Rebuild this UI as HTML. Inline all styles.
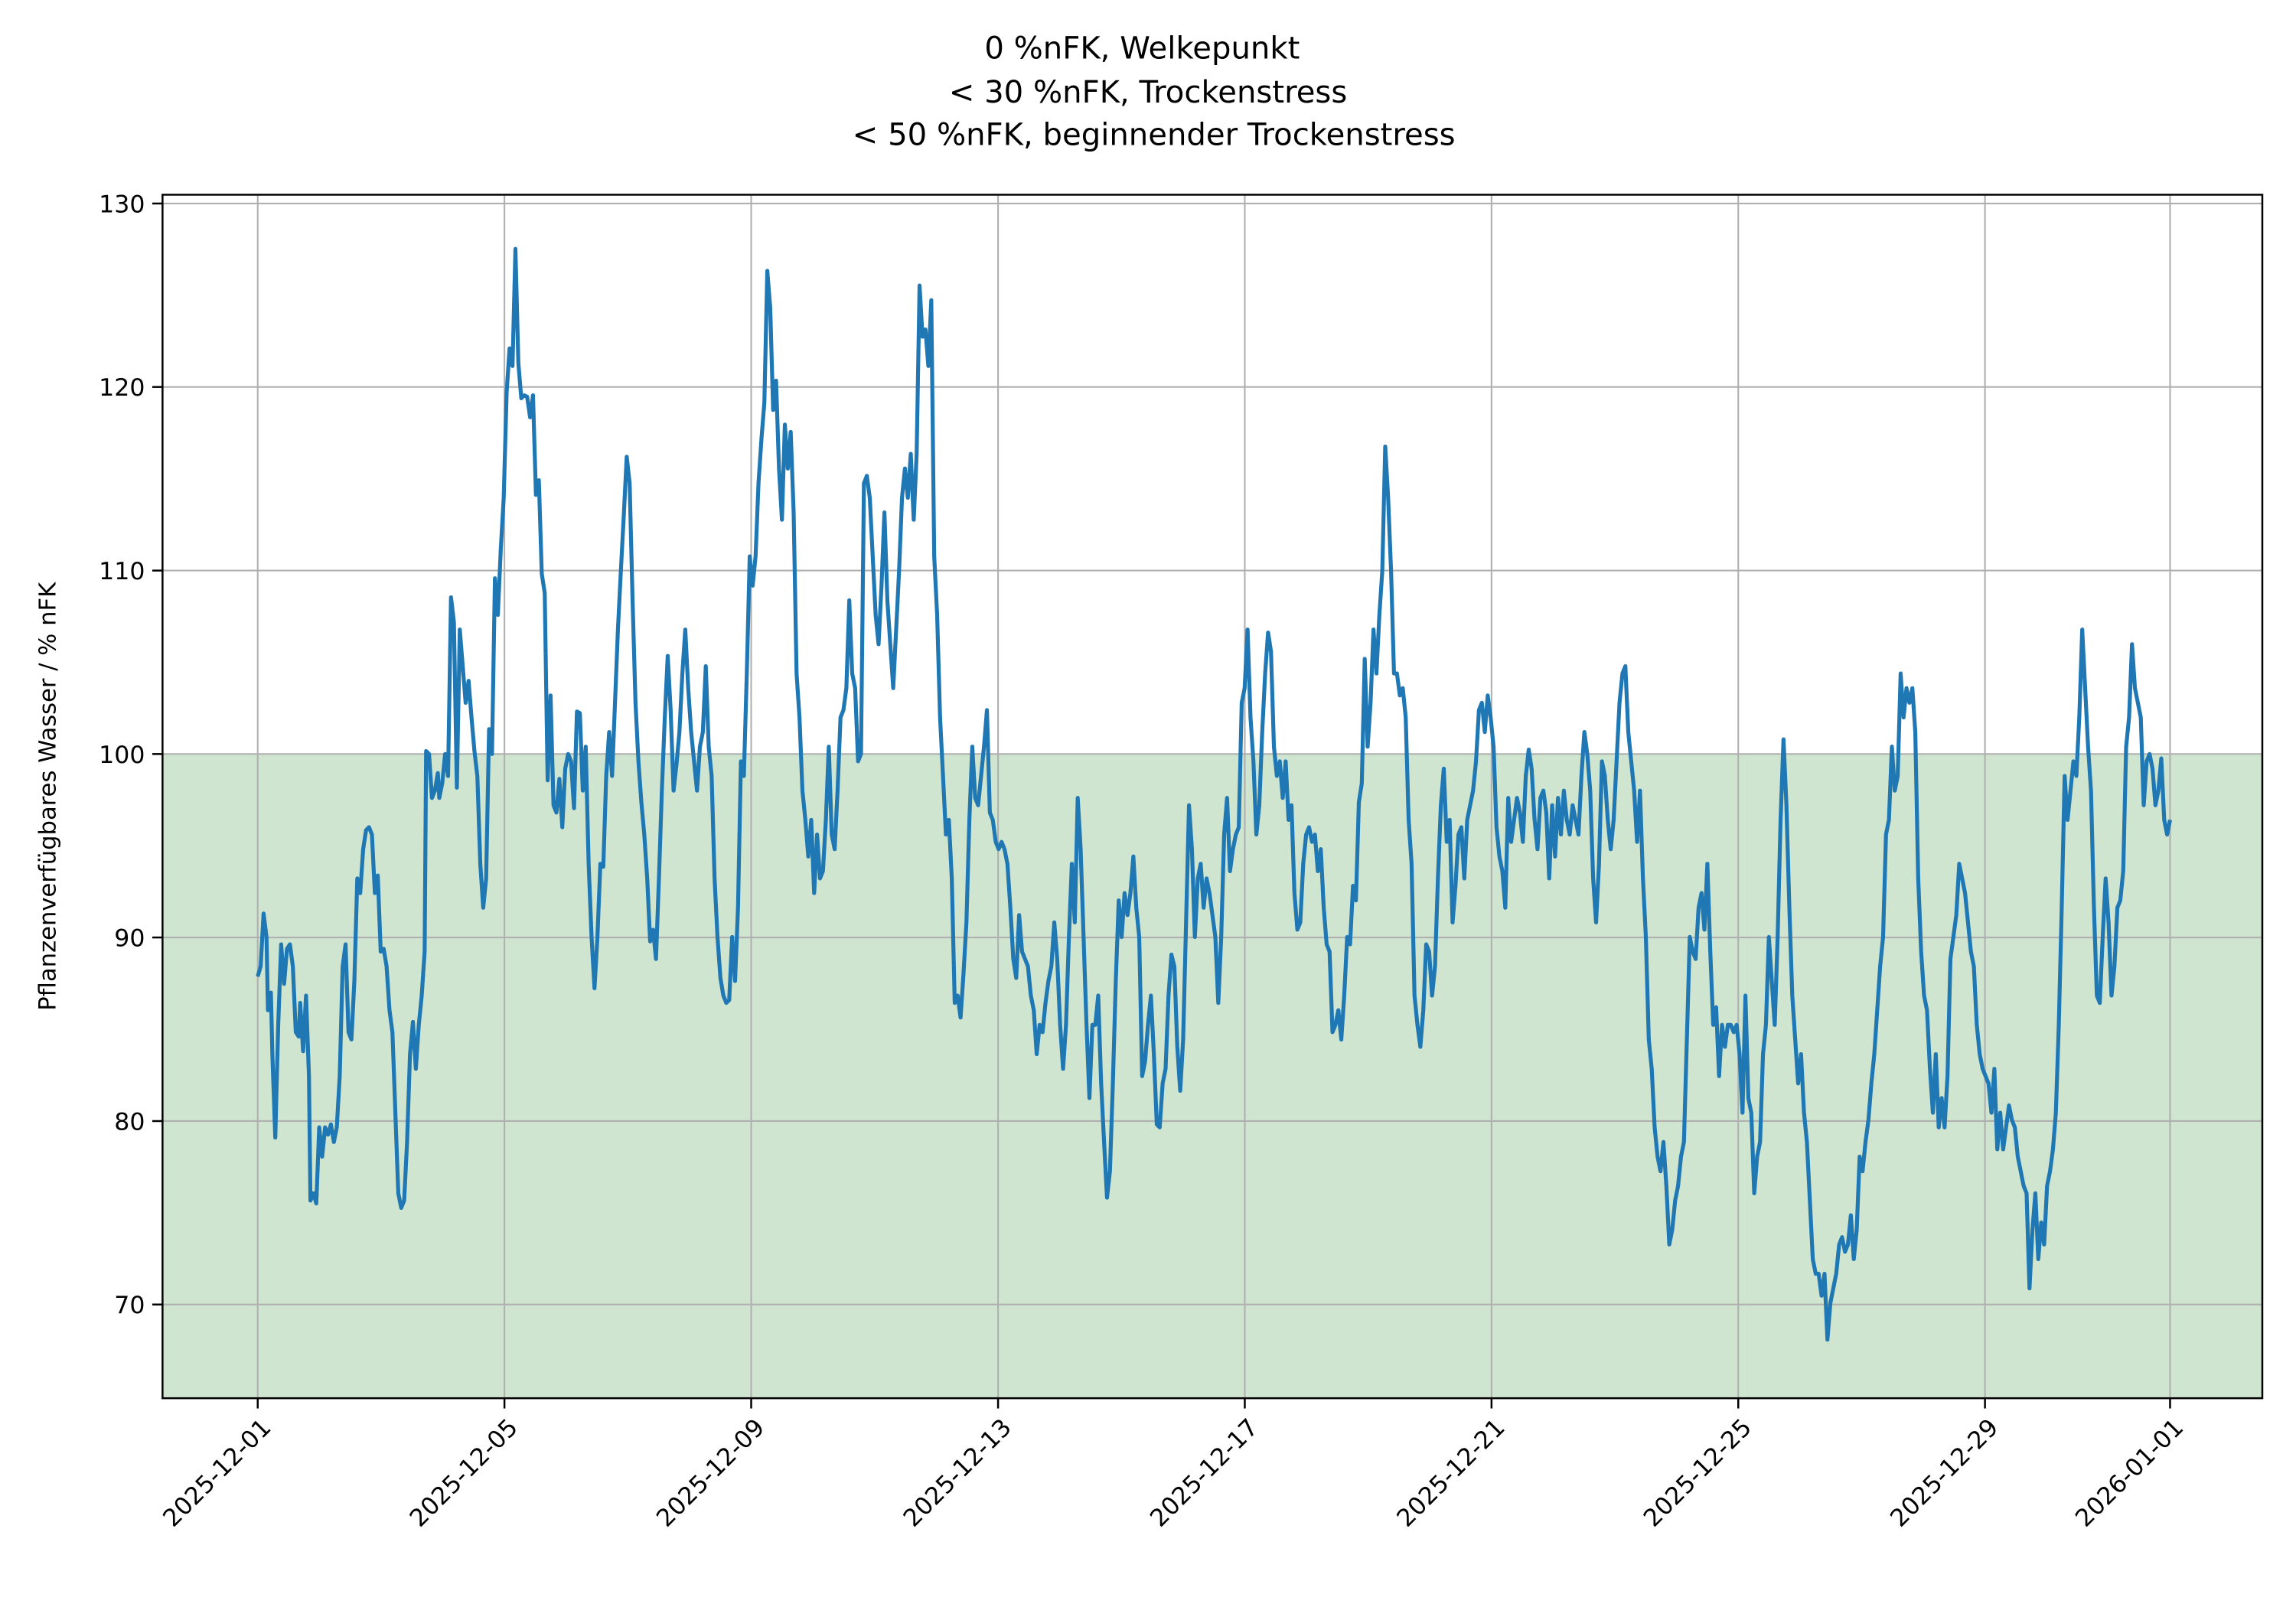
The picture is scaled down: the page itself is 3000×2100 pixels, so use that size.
<!DOCTYPE html>
<html><head><meta charset="utf-8"><style>html,body{margin:0;padding:0;background:#fff}svg{display:block}</style></head>
<body>
<svg width="3000" height="2100" viewBox="0 0 1568 1097.6" preserveAspectRatio="none" xmlns="http://www.w3.org/2000/svg" font-family="DejaVu Sans, Liberation Sans, sans-serif">
<rect width="1568" height="1097.6" fill="#fff"/>
<rect x="111" y="515" width="1434" height="440" fill="#cfe5cf"/>
<g stroke="#b0b0b0" stroke-width="1.1">
<line x1="111" x2="1545" y1="139" y2="139"/><line x1="111" x2="1545" y1="264.3" y2="264.3"/><line x1="111" x2="1545" y1="389.7" y2="389.7"/><line x1="111" x2="1545" y1="515" y2="515"/><line x1="111" x2="1545" y1="640.3" y2="640.3"/><line x1="111" x2="1545" y1="765.7" y2="765.7"/><line x1="111" x2="1545" y1="891" y2="891"/>
<line y1="133" y2="955" x1="176" x2="176"/><line y1="133" y2="955" x1="344.5" x2="344.5"/><line y1="133" y2="955" x1="513" x2="513"/><line y1="133" y2="955" x1="681.6" x2="681.6"/><line y1="133" y2="955" x1="850.1" x2="850.1"/><line y1="133" y2="955" x1="1018.6" x2="1018.6"/><line y1="133" y2="955" x1="1187.1" x2="1187.1"/><line y1="133" y2="955" x1="1355.6" x2="1355.6"/><line y1="133" y2="955" x1="1482" x2="1482"/>
</g>
<polyline fill="none" stroke="#1f77b4" stroke-width="2.7" stroke-linejoin="round" points="176,667 178,660 180,624 182,640 183,690 185,678 186,720 188,777 190,700 192,645 194,672 196,648 198,645 200,660 202,705 204,708 205,685 207,718 209,680 211,735 212,820 214,815 216,822 218,770 220,790 222,770 224,775 226,768 228,780 230,770 232,735 234,660 236,645 238,705 240,710 242,670 244,600 246,610 248,580 250,567 252,565 254,570 256,610 258,598 260,650 262,648 264,660 266,690 268,705 270,760 272,815 274,825 276,820 278,780 280,720 282,698 284,730 286,700 288,680 290,650 291,513 293,515 295,545 297,540 299,528 300,545 302,535 304,515 306,530 308,408 310,425 312,538 314,430 316,455 318,480 320,465 322,490 324,513 326,530 328,590 330,620 332,600 334,498 336,515 338,395 340,420 342,375 344,340 346,268 348,238 350,250 352,170 354,248 356,272 358,270 360,271 362,285 364,270 366,338 368,328 370,392 372,405 374,533 376,475 378,550 380,555 382,532 384,565 386,525 388,515 390,520 392,552 394,486 396,487 398,540 400,510 402,590 404,640 406,675 408,640 410,590 412,592 414,530 416,500 418,530 420,480 422,430 424,390 426,352 428,312 430,330 432,410 434,480 436,520 438,548 440,570 442,600 444,643 446,635 448,655 450,600 452,540 454,490 456,448 458,485 460,540 462,522 464,500 466,460 468,430 470,470 472,500 474,520 476,540 478,510 480,500 482,455 484,510 486,530 488,600 490,640 492,668 494,680 496,685 498,683 500,640 502,670 504,620 506,520 508,530 510,460 512,380 514,400 516,380 518,330 520,300 522,275 524,185 526,210 528,280 530,260 532,320 534,355 536,290 538,320 540,295 542,350 544,460 546,490 548,540 550,560 552,585 554,560 556,610 558,570 560,600 562,595 564,560 566,510 568,570 570,580 572,540 574,490 576,485 578,470 580,410 582,460 584,470 586,520 588,515 590,330 592,325 594,340 596,380 598,420 600,440 602,400 604,350 606,410 608,440 610,470 612,430 614,390 616,340 618,320 620,340 622,310 624,355 626,310 628,195 630,230 632,225 634,250 636,205 638,380 640,420 642,490 644,530 646,570 648,560 650,600 652,685 654,680 656,695 658,665 660,630 662,560 664,510 666,545 668,550 670,530 672,510 674,485 676,555 678,560 680,575 682,580 684,575 686,580 688,590 690,620 692,655 694,668 696,625 698,650 700,655 702,660 704,680 706,690 708,720 710,700 712,705 714,685 716,670 718,660 720,630 722,655 724,700 726,730 728,700 730,640 732,590 734,630 736,545 738,580 740,640 742,700 744,750 746,700 748,700 750,680 752,740 754,780 756,818 758,800 760,740 762,670 764,615 766,640 768,610 770,625 772,610 774,585 776,620 778,640 780,735 782,725 784,700 786,680 788,720 790,768 792,770 794,740 796,730 798,680 800,652 802,660 804,715 806,745 808,710 810,630 812,550 814,580 816,640 818,600 820,590 822,620 824,600 826,610 828,625 830,640 832,685 834,640 836,570 838,545 840,595 842,580 844,570 846,565 848,480 850,470 852,430 854,490 856,520 858,570 860,550 862,500 864,460 866,432 868,445 870,510 872,530 874,520 876,545 878,520 880,560 882,550 884,610 886,635 888,630 890,590 892,570 894,565 896,575 898,570 900,595 902,580 904,620 906,645 908,650 910,705 912,700 914,690 916,710 918,680 920,640 922,645 924,605 926,615 928,548 930,535 932,450 934,510 936,480 938,430 940,460 942,420 944,390 946,305 948,340 950,390 952,460 954,460 956,475 958,470 960,490 962,560 964,590 966,680 968,700 970,715 972,690 974,645 976,650 978,680 980,660 982,600 984,550 986,525 988,575 990,560 992,630 994,605 996,570 998,565 1000,600 1002,560 1004,550 1006,540 1008,520 1010,485 1012,480 1014,500 1016,475 1018,490 1020,510 1022,565 1024,585 1026,595 1028,620 1030,545 1032,575 1034,560 1036,545 1038,555 1040,575 1042,530 1044,512 1046,525 1048,560 1050,580 1052,545 1054,540 1056,555 1058,600 1060,550 1062,585 1064,545 1066,570 1068,540 1070,560 1072,570 1074,550 1076,560 1078,570 1080,530 1082,500 1084,515 1086,540 1088,600 1090,630 1092,590 1094,520 1096,530 1098,560 1100,580 1102,560 1104,520 1106,480 1108,460 1110,455 1112,500 1114,520 1116,540 1118,575 1120,540 1122,600 1124,640 1126,710 1128,730 1130,770 1132,790 1134,800 1136,780 1138,810 1140,850 1142,840 1144,820 1146,810 1148,790 1150,780 1152,710 1154,640 1156,650 1158,655 1160,620 1162,610 1164,635 1166,590 1168,650 1170,700 1172,688 1174,735 1176,700 1178,715 1180,700 1182,700 1184,705 1186,700 1188,720 1190,760 1192,680 1194,750 1196,760 1198,815 1200,790 1202,780 1204,720 1206,700 1208,640 1210,670 1212,700 1214,640 1216,560 1218,505 1220,550 1222,620 1224,680 1226,710 1228,740 1230,720 1232,760 1234,780 1236,820 1238,860 1240,870 1242,870 1244,885 1246,870 1248,915 1250,890 1252,880 1254,870 1256,850 1258,845 1260,855 1262,850 1264,830 1266,860 1268,840 1270,790 1272,800 1274,780 1276,765 1278,740 1280,720 1282,690 1284,660 1286,640 1288,570 1290,560 1292,510 1294,540 1296,530 1298,460 1300,490 1302,470 1304,480 1306,470 1308,500 1310,600 1312,650 1314,680 1316,690 1318,730 1320,760 1322,720 1324,770 1326,750 1328,770 1330,735 1332,655 1334,640 1336,625 1338,590 1340,600 1342,610 1344,630 1346,650 1348,660 1350,700 1352,720 1354,730 1356,735 1358,740 1360,760 1362,730 1364,785 1366,760 1368,785 1370,770 1372,755 1374,765 1376,770 1378,790 1380,800 1382,810 1384,815 1386,880 1388,840 1390,815 1392,860 1394,835 1396,850 1398,810 1400,800 1402,785 1404,760 1406,700 1408,620 1410,530 1412,560 1414,540 1416,520 1418,530 1420,490 1422,430 1424,470 1426,510 1428,540 1430,620 1432,680 1434,685 1436,640 1438,600 1440,630 1442,680 1444,660 1446,620 1448,615 1450,595 1452,510 1454,490 1456,440 1458,470 1460,480 1462,490 1464,550 1466,520 1468,515 1470,525 1472,550 1474,540 1476,518 1478,560 1480,570 1482,560"/>
<rect x="111" y="133" width="1434" height="822" fill="none" stroke="#000" stroke-width="1.3"/>
<g stroke="#000" stroke-width="1.3">
<line x1="104" x2="111" y1="139" y2="139"/><line x1="104" x2="111" y1="264.3" y2="264.3"/><line x1="104" x2="111" y1="389.7" y2="389.7"/><line x1="104" x2="111" y1="515" y2="515"/><line x1="104" x2="111" y1="640.3" y2="640.3"/><line x1="104" x2="111" y1="765.7" y2="765.7"/><line x1="104" x2="111" y1="891" y2="891"/>
<line y1="955" y2="962" x1="176" x2="176"/><line y1="955" y2="962" x1="344.5" x2="344.5"/><line y1="955" y2="962" x1="513" x2="513"/><line y1="955" y2="962" x1="681.6" x2="681.6"/><line y1="955" y2="962" x1="850.1" x2="850.1"/><line y1="955" y2="962" x1="1018.6" x2="1018.6"/><line y1="955" y2="962" x1="1187.1" x2="1187.1"/><line y1="955" y2="962" x1="1355.6" x2="1355.6"/><line y1="955" y2="962" x1="1482" x2="1482"/>
</g>
<g font-size="16.5" text-anchor="end" fill="#000">
<text x="99" y="145">130</text><text x="99" y="270.3">120</text><text x="99" y="395.7">110</text><text x="99" y="521">100</text><text x="99" y="646.3">90</text><text x="99" y="771.7">80</text><text x="99" y="897">70</text>
</g>
<g font-size="16.5" text-anchor="end" fill="#000">
<text transform="translate(186,976) rotate(-45)">2025-12-01</text>
<text transform="translate(354.5,976) rotate(-45)">2025-12-05</text>
<text transform="translate(523,976) rotate(-45)">2025-12-09</text>
<text transform="translate(691.6,976) rotate(-45)">2025-12-13</text>
<text transform="translate(860.1,976) rotate(-45)">2025-12-17</text>
<text transform="translate(1028.6,976) rotate(-45)">2025-12-21</text>
<text transform="translate(1197.1,976) rotate(-45)">2025-12-25</text>
<text transform="translate(1365.6,976) rotate(-45)">2025-12-29</text>
<text transform="translate(1492,976) rotate(-45)">2026-01-01</text>
</g>
<text transform="translate(38,544) rotate(-90)" font-size="16" text-anchor="middle">Pflanzenverfügbares Wasser / % nFK</text>
<g font-size="21" text-anchor="middle">
<text x="780" y="40">0 %nFK, Welkepunkt</text>
<text x="784" y="70">&lt; 30 %nFK, Trockenstress</text>
<text x="788" y="99">&lt; 50 %nFK, beginnender Trockenstress</text>
</g>
</svg>
</body></html>
